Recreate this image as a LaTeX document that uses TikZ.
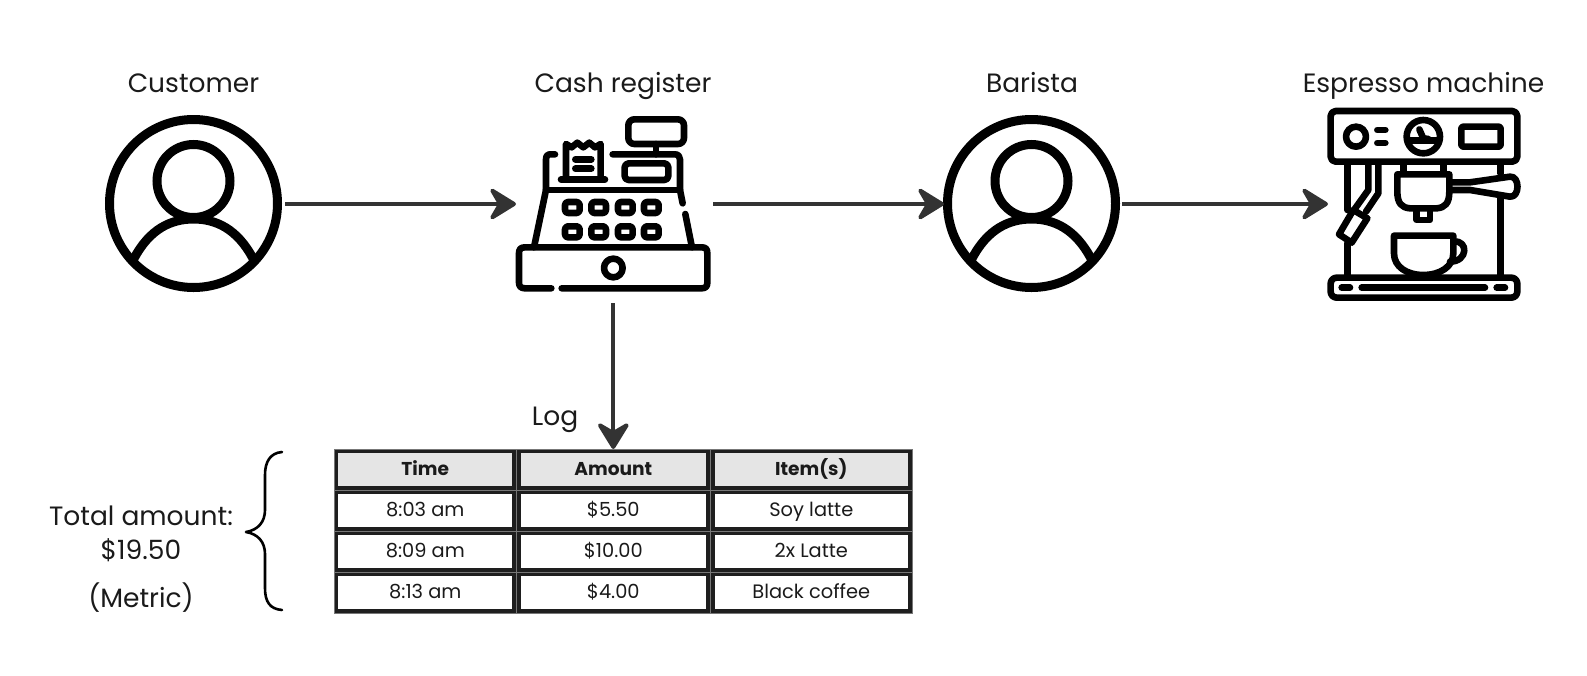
\documentclass[tikz,border=0pt]{standalone}
\usepackage{fontspec}
\setmainfont{Poppins}
\usetikzlibrary{arrows.meta}
\definecolor{ink}{HTML}{000000}
\definecolor{arrowc}{HTML}{333333}
\definecolor{cellb}{HTML}{1E1E1E}
\definecolor{headf}{HTML}{E5E5E5}
\definecolor{txt}{HTML}{1A1A1A}
\definecolor{hairc}{HTML}{777777}
\tikzset{
 x=1pt,y=-1pt,
 ic/.style={draw=ink,line width=6.6pt,line cap=round,line join=round},
 flow/.style={draw=arrowc,line width=4pt,-{Stealth[length=31pt,width=38pt,inset=11pt,round]}},
 lab/.style={font=\fontsize{26.5}{30}\selectfont,text=txt,inner sep=0pt,anchor=base},
 cellbox/.style={draw=cellb,line width=4.5pt,fill=white,minimum height=36.6pt,inner sep=0pt,text height=14pt,text depth=3pt,font=\fontsize{19.4}{23}\selectfont,text=txt},
 headbox/.style={cellbox,fill=headf,font=\fontsize{18.6}{23}\selectfont\bfseries},
 hairline/.style={draw=hairc,line width=0.6pt},
 hit/.style={inner sep=0pt,outer sep=0pt},
}
\newcommand{\personicon}[1]{%
 \begin{scope}[shift={#1}]
 \draw[draw=ink,line width=9pt] (0,0) circle[radius=84];
 \draw[draw=ink,line width=9pt] (0,-22.5) circle[radius=36.5];
 \draw[draw=ink,line width=9pt] (-60,56) .. controls (-44,25) and (-22,15.5) .. (0,15.5) .. controls (22,15.5) and (44,25) .. (60,56);
 \end{scope}}
\begin{document}
\begin{tikzpicture}
\useasboundingbox (0,0) rectangle (1587,675);
% anchors of the icons
\node[hit,circle,minimum size=183pt] (customer) at (193.5,204) {};
\node[hit,minimum width=197pt,minimum height=198pt] (register) at (614.5,204) {};
\node[hit,circle,minimum size=181pt] (barista) at (1031.5,204) {};
\node[hit,minimum width=190pt,minimum height=198pt] (machine) at (1423,204) {};
\personicon{(193.5,203.5)}
\personicon{(1031.5,203.5)}
% register
\begin{scope}[shift={(490,100)},x=0.3333pt,y=-0.3333pt]
 \draw[ic] (195,163) -- (178,163) .. controls (170,163) and (168,170) .. (168,178) -- (168,268);
 \draw[ic] (213,238) -- (345,238);
 \draw[ic] (228,238) -- (228,132) -- (245,142) -- (262,128) -- (280,142) -- (298,128) -- (315,142) -- (332,132) -- (332,238);
 \draw[ic] (256,178) -- (304,178) (256,206) -- (304,206);
 \draw[ic] (368,163) -- (555,163) .. controls (565,163) and (570,170) .. (570,178) -- (570,268);
 \draw[ic,rounded corners=6pt] (415,58) rectangle (582,132);
 \draw[ic] (498,132) -- (498,163);
 \draw[ic,rounded corners=4pt] (404,190) rectangle (535,240);
 \draw[ic] (168,270) -- (570,270);
 \draw[ic] (168,270) -- (132,442);
 \draw[ic] (570,270) -- (578,310);
 \draw[ic] (586,342) -- (606,442);
 \foreach \x in {247,326,406,484}{
  \draw[ic,rounded corners=3pt] (\x-22,306) rectangle (\x+22,339);
  \draw[ic,rounded corners=3pt] (\x-22,379) rectangle (\x+22,412);
 }
 \draw[ic] (184,565) -- (105,565) .. controls (92,565) and (87,558) .. (87,548) -- (87,460) .. controls (87,448) and (92,442) .. (105,442) -- (635,442) .. controls (648,442) and (652,448) .. (652,460) -- (652,548) .. controls (652,558) and (648,565) .. (635,565) -- (215,565);
 \draw[ic] (370,504) circle[radius=28];
\end{scope}
% machine
\begin{scope}[shift={(1290,95)},x=0.3333pt,y=-0.3333pt]
 \draw[ic,rounded corners=5pt] (122,48) rectangle (682,200);
 \draw[ic] (198,125) circle[radius=30];
 \draw[ic] (262,105) -- (286,105) (262,144) -- (286,144);
 \draw[ic] (400,125) circle[radius=50];
 \draw[ic] (355,137) -- (445,137);
 \draw[ic] (388,103) -- (400,130) -- (415,132);
 \draw[ic,rounded corners=2pt] (514,95) rectangle (632,155);
 \draw[ic] (172,205) -- (172,345) (172,445) -- (172,540);
 \draw[ic] (632,310) -- (632,540);
 \draw[ic] (632,205) -- (632,235);
 \draw[ic] (235,205) -- (235,285) -- (192,345);
 \draw[ic] (265,205) -- (265,295) -- (228,350);
 \draw[ic] (190,345) -- (232,370) -- (185,443) -- (147,418) -- cycle;
 \draw[ic] (340,205) -- (340,235) (460,205) -- (460,235);
 \draw[ic] (322,238) -- (478,238) -- (478,290) .. controls (478,325) and (465,338) .. (440,340) -- (360,340) .. controls (335,338) and (322,325) .. (322,290) -- cycle;
 \draw[ic] (380,340) -- (380,375) -- (420,375) -- (420,340);
 \draw[ic] (480,262) -- (540,262) -- (660,245) .. controls (690,242) and (690,308) .. (660,305) -- (540,285) -- (480,285);
 \draw[ic] (312,422) -- (490,422) -- (490,475) .. controls (490,515) and (450,540) .. (400,540) .. controls (350,540) and (312,515) .. (312,475) -- cycle;
 \draw[ic] (492,440) .. controls (535,435) and (535,500) .. (480,500);
 \draw[ic,rounded corners=6pt] (122,548) rectangle (682,608);
 \draw[ic] (155,578) -- (180,578) (215,578) -- (585,578) (620,578) -- (645,578);
\end{scope}
% labels
\node[lab] (lcustomer) at (193.5,92.5) {Customer};
\node[lab] (lregister) at (623,92.5) {Cash register};
\node[lab] (lbarista) at (1032,92.5) {Barista};
\node[lab] (lmachine) at (1423.5,92.5) {Espresso machine};
\node[lab] (llog) at (555,425) {Log};
\node[lab] (ltotal) at (141,525) {Total amount:};
\node[lab] (lsum) at (141,559) {\$19.50};
\node[lab] (lmetric) at (141,607) {(Metric)};
% brace
\draw[draw=ink,line width=2.6pt,line cap=round,line join=round] (282,452) .. controls (270,453) and (265,462) .. (265,475) -- (265,510) .. controls (265,522) and (258,530) .. (246,532) .. controls (258,534) and (265,542) .. (265,554) -- (265,588) .. controls (265,602) and (270,609) .. (282,610);
% table
\foreach \cx/\w/\nm/\a/\b/\c/\d in {425.3/178.4/t/Time/8:03 am/8:09 am/8:13 am,613.3/189/a/Amount/\$5.50/\$10.00/\$4.00,811.3/197/i/Item(s)/Soy latte/2x Latte/Black coffee}{
 \node[headbox,minimum width=\w pt] (\nm0) at (\cx,469.5) {\a};
 \node[cellbox,minimum width=\w pt] (\nm1) at (\cx,510.5) {\b};
 \node[cellbox,minimum width=\w pt] (\nm2) at (\cx,551.5) {\c};
 \node[cellbox,minimum width=\w pt] (\nm3) at (\cx,592.5) {\d};
 \foreach \r in {0,1,2,3}{
  \draw[hairline] (\nm\r.north west) rectangle (\nm\r.south east);
 }
}
% connectors
\draw[flow] (customer.east) -- (register.west);
\draw[flow,shorten >=-3pt] (register.east) -- (barista.west);
\draw[flow] (barista.east) -- (machine.west);
\draw[flow] (register.south -| a0.north) -- (a0.north);
\end{tikzpicture}
\end{document}
